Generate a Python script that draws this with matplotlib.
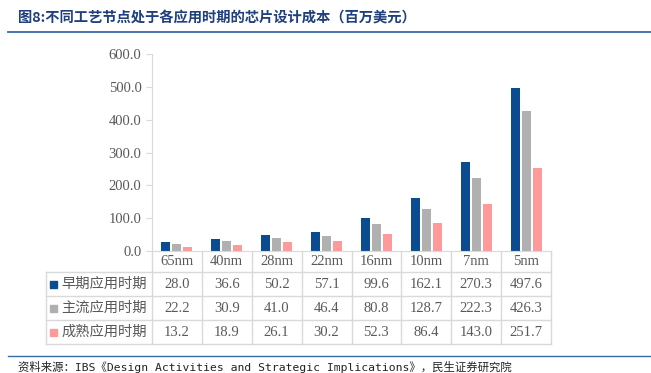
import matplotlib.pyplot as plt
from matplotlib.lines import Line2D
from matplotlib.patches import Rectangle
import numpy as np

plt.rcParams['font.family'] = ['Liberation Serif', 'Noto Sans CJK SC']

# 数据
nodes = ["65nm", "40nm", "28nm", "22nm", "16nm", "10nm", "7nm", "5nm"]
series_names = ["早期应用时期", "主流应用时期", "成熟应用时期"]
early = [28.0, 36.6, 50.2, 57.1, 99.6, 162.1, 270.3, 497.6]
mainstream = [22.2, 30.9, 41.0, 46.4, 80.8, 128.7, 222.3, 426.3]
mature = [13.2, 18.9, 26.1, 30.2, 52.3, 86.4, 143.0, 251.7]
colors = ["#0B4C91", "#B0B0B0", "#FF9A9A"]

W, H = 651, 373
fig = plt.figure(figsize=(W / 100, H / 100), dpi=100)

def fx(px):
    return px / W

def fy(py):
    return 1 - py / H

# 坐标轴区域
x0, x1 = 152, 551
ytop, ybot = 54, 251
ax = fig.add_axes([fx(x0), fy(ybot), fx(x1 - x0), (ybot - ytop) / H])

series = [early, mainstream, mature]
x = np.arange(len(nodes))
for i, (vals, c) in enumerate(zip(series, colors)):
    ax.bar(x + (i - 1) * 0.22, vals, width=0.18, color=c)

ax.set_xlim(-0.5, len(nodes) - 0.5)
ax.set_ylim(0, 600)
ax.set_yticks(np.arange(0, 601, 100))
ax.set_yticklabels([f"{v:.1f}" for v in np.arange(0, 601, 100)])
ax.set_xticks([])
for s in ["top", "right"]:
    ax.spines[s].set_visible(False)
ax.spines["left"].set_color("#D9D9D9")
ax.spines["bottom"].set_color("#D9D9D9")
ax.tick_params(axis="y", colors="#D9D9D9", labelcolor="#595959", labelsize=10.5, length=4)
ax.patch.set_alpha(0)

# 数据表
grid_c = "#D9D9D9"
txt_c = "#595959"
col_w = (x1 - x0) / len(nodes)
row_tops = [251, 272, 296, 320, 344]
label_x0 = 46

def hline(py, xa, xb):
    fig.add_artist(Line2D([fx(xa), fx(xb)], [fy(py), fy(py)], color=grid_c, lw=1))

def vline(px, ya, yb):
    fig.add_artist(Line2D([fx(px), fx(px)], [fy(ya), fy(yb)], color=grid_c, lw=1))

for r in row_tops[1:]:
    hline(r, label_x0, x1)
vline(label_x0, row_tops[1], row_tops[4])
for j in range(len(nodes) + 1):
    vline(x0 + j * col_w, row_tops[0], row_tops[4])

for j, n in enumerate(nodes):
    cx = x0 + (j + 0.5) * col_w
    fig.text(fx(cx), fy((row_tops[0] + row_tops[1]) / 2), n, ha="center", va="center",
             color=txt_c, fontsize=10.5)
    for i, vals in enumerate(series):
        cy = (row_tops[i + 1] + row_tops[i + 2]) / 2
        fig.text(fx(cx), fy(cy), f"{vals[j]:.1f}", ha="center", va="center",
                 color=txt_c, fontsize=10.5)

for i, (name, c) in enumerate(zip(series_names, colors)):
    cy = (row_tops[i + 1] + row_tops[i + 2]) / 2
    fig.add_artist(Rectangle((fx(50), fy(cy + 3.5)), 7 / W, 7 / H, color=c))
    fig.text(fx(61), fy(cy), name, ha="left", va="center",
             color=txt_c, fontsize=10.3, family=["Noto Sans CJK SC", "DejaVu Sans"])

# 标题和来源
title_c = "#1F3F7F"
fig.text(fx(18), fy(18), "图8:不同工艺节点处于各应用时期的芯片设计成本（百万美元）",
         ha="left", va="center", color=title_c, fontsize=10.3, fontweight="bold",
         family=["Noto Sans CJK SC", "DejaVu Sans"])
fig.add_artist(Line2D([fx(8), 1], [fy(32), fy(32)], color="#3A6BA5", lw=1.3))
fig.add_artist(Line2D([fx(8), 1], [fy(356), fy(356)], color="#3A6BA5", lw=1.0))
fig.text(fx(18), fy(367), "资料来源：IBS《Design Activities and Strategic Implications》，民生证券研究院",
         ha="left", va="center", color="#222222", fontsize=8.2,
         family=["DejaVu Sans Mono", "Noto Sans CJK SC"])

fig.savefig("out.png", dpi=100)
